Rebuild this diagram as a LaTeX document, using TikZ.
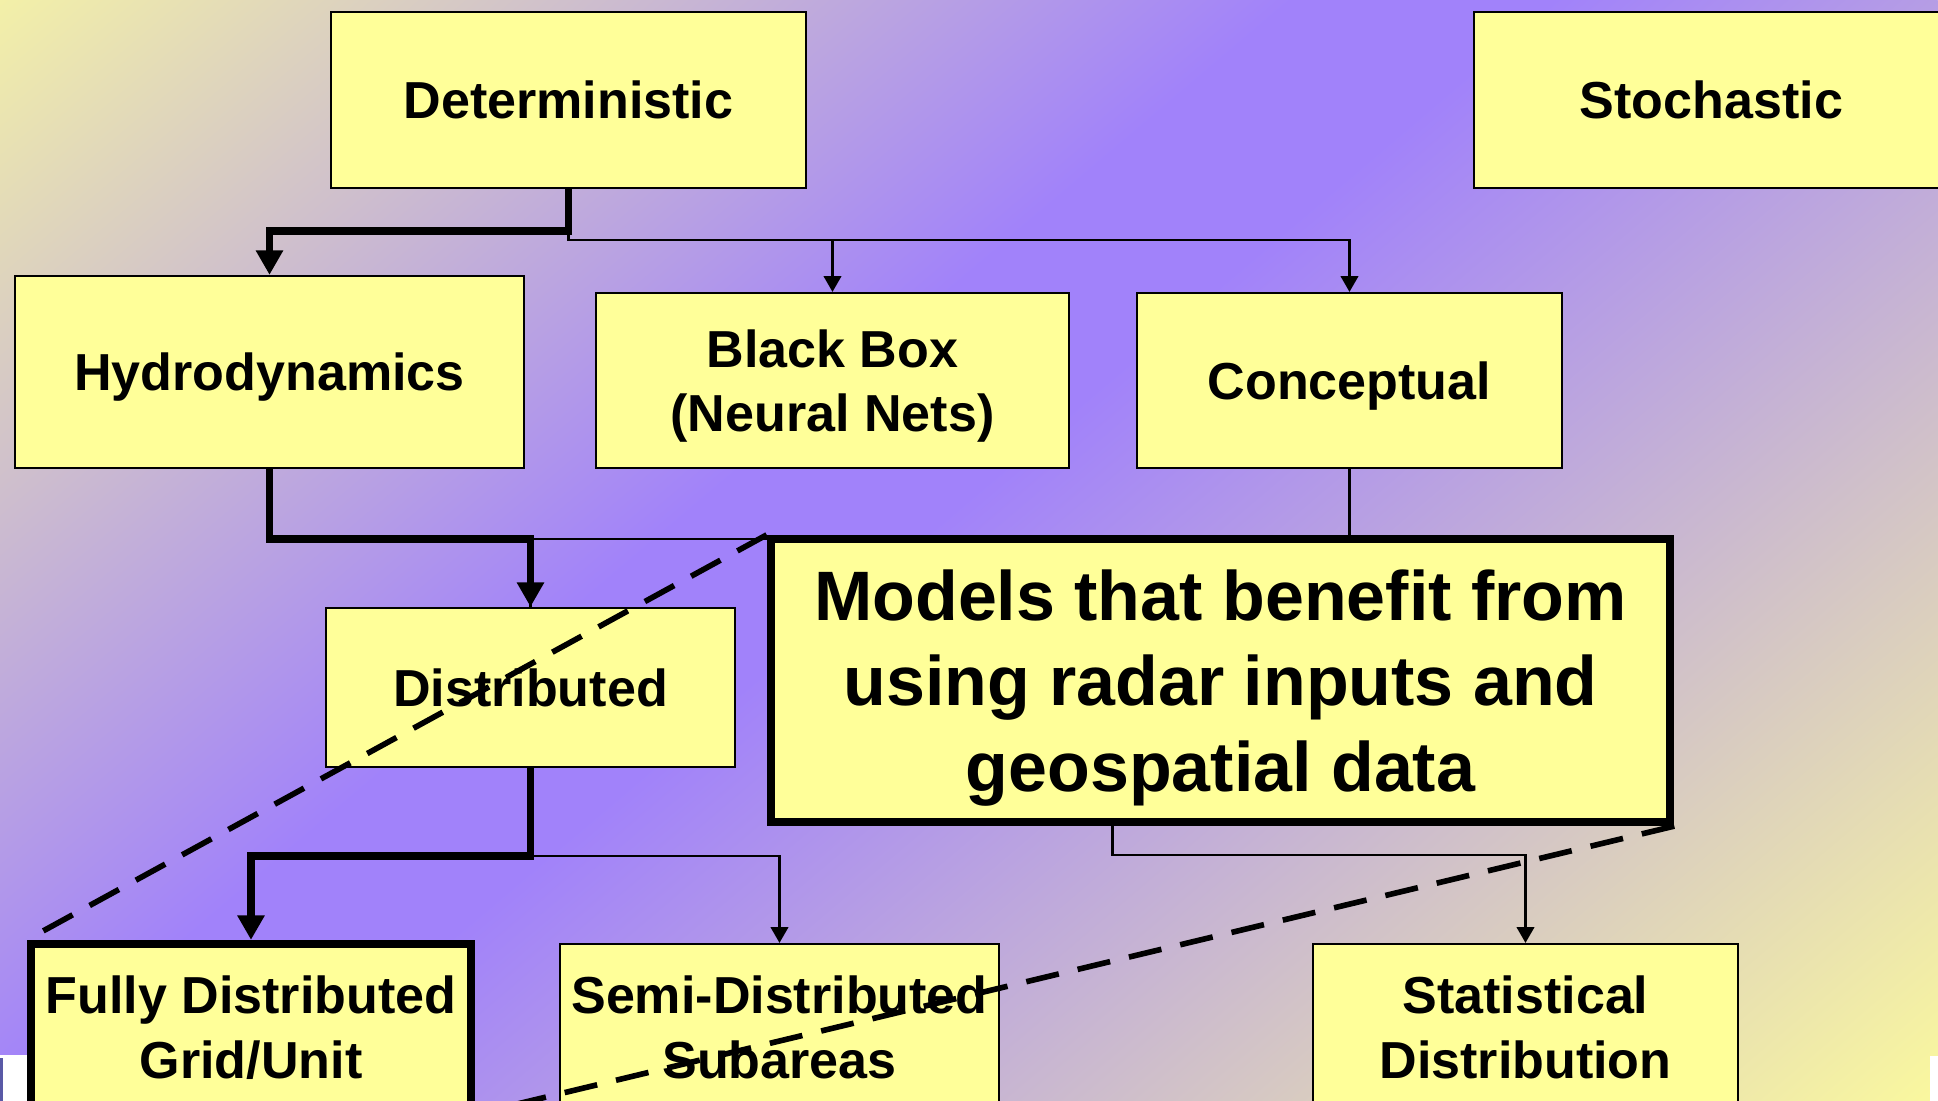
\documentclass[tikz,border=0pt]{standalone}
\usepackage{fontspec}
\setmainfont{Liberation Sans}
\usetikzlibrary{arrows.meta}

\definecolor{boxyellow}{RGB}{255,255,153}
\definecolor{bgtop}{RGB}{243,240,168}
\definecolor{bgpurple}{RGB}{161,130,250}
\definecolor{bgbottom}{RGB}{250,248,158}
\pgfdeclarehorizontalshading{slidebg}{100bp}{color(0bp)=(bgtop); color(25bp)=(bgtop);
  color(45bp)=(bgpurple); color(49bp)=(bgpurple); color(75bp)=(bgbottom); color(100bp)=(bgbottom)}

\begin{document}
\begin{tikzpicture}[x=0.01cm, y=-0.01cm,
    box/.style={draw, line width=0.6pt, fill=boxyellow, align=center, inner sep=0pt,
      text depth=0pt, font=\bfseries\fontsize{14.8}{18.3}\selectfont},
    keybox/.style={box, line width=2.3pt},
    thinline/.style={line width=0.65pt},
    thinarrow/.style={thinline, -{Triangle[width=5pt,length=4.5pt]}},
    thickline/.style={line width=2.2pt},
    thickarrow/.style={thickline, -{Triangle[width=7.4pt,length=7pt]}},
    cutline/.style={line width=1.6pt, dash pattern=on 9.5pt off 5.5pt}]
    \useasboundingbox (0,0) rectangle (1938,1101);
    \clip (0,0) rectangle (1938,1101);

    % slide background
    \begin{scope}
        \clip (0,0) rectangle (1938,1101);
        \shade[shading=slidebg, transform canvas={rotate=-49.67}] (0,-1477) rectangle (2093,712);
    \end{scope}
    \fill[white] (0,1055) rectangle (27,1101);
    \fill[white] (1930,1056) rectangle (1938,1101);
    \fill[gray!70!blue] (0,1058) rectangle (3,1101);

    % model types
    \node[box, minimum width=4.75cm, minimum height=1.76cm] (det) at (568.5,100) {Deterministic};
    \node[box, minimum width=4.75cm, minimum height=1.76cm] (sto) at (1711.5,100) {Stochastic};
    \node[box, minimum width=5.09cm, minimum height=1.92cm] (hydro) at (269.5,372) {Hydrodynamics};
    \node[box, minimum width=4.73cm, minimum height=1.75cm] (bbox) at (832.5,380.5) {Black Box\\(Neural Nets)};
    \node[box, minimum width=4.25cm, minimum height=1.75cm] (concept) at (1349.5,380.5) {Conceptual};
    \node[box, minimum width=4.09cm, minimum height=1.59cm] (dist) at (530.5,687.5) {Distributed};
    \node[keybox, minimum width=4.40cm, minimum height=1.66cm] (full) at (251,1027) {Fully Distributed\\Grid/Unit};
    \node[box, minimum width=4.39cm, minimum height=1.66cm] (semi) at (779.5,1027) {Semi-Distributed\\Subareas};
    \node[box, minimum width=4.25cm, minimum height=1.66cm] (stat) at (1525.5,1027) {Statistical\\Distribution};

    % tree connectors
    \draw[thinarrow] (det.south) -- ++(0,51) -| (bbox.north);
    \draw[thinarrow] (det.south) -- ++(0,51) -| (concept.north);
    \draw[thickarrow] (det.south) -- ++(0,42) -| (hydro.north);
    \draw[thinline] (concept.south) -- ++(0,70) -| (dist.north);
    \draw[thickarrow] (hydro.south) -- ++(0,70) -| (dist.north);
    \draw[thinarrow] (dist.south) -- ++(0,88) -| (semi.north);
    \draw[thickarrow] (dist.south) -- ++(0,88) -| (full.north);

    \node[keybox, minimum width=8.99cm, minimum height=2.83cm,
      font=\bfseries\fontsize{19.9}{24.3}\selectfont] (models) at (1220.5,680.5)
      {Models that benefit from\\using radar inputs and\\geospatial data};
    \draw[thinarrow] ([xshift=-1.08cm]models.south) -- ++(0,29) -| (stat.north);

    % dashed callout lines
    \draw[cutline] (models.north west) -- (full.north west);
    \draw[cutline] (models.south east) -- (full.south east);
\end{tikzpicture}
\end{document}
